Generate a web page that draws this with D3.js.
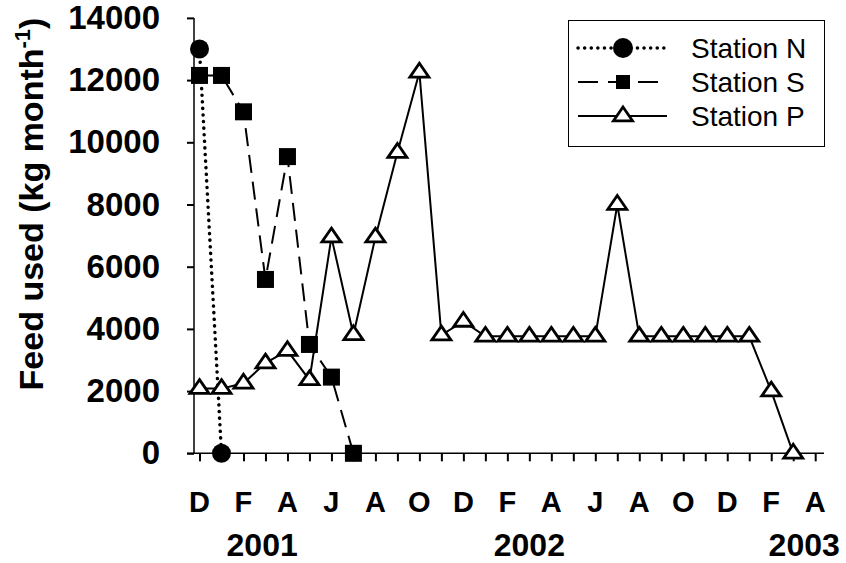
<!DOCTYPE html>
<html>
<head>
<meta charset="utf-8">
<script src="https://cdn.jsdelivr.net/npm/d3@7"></script>
<style>
  body { margin: 0; background: #fff; }
  svg { font-family: "Liberation Sans", Arial, sans-serif; }
</style>
</head>
<body>
<div id="plot"></div>
<script>
// month index 0 = Dec 2000
const monthLabels = ["D", "F", "A", "J", "A", "O", "D", "F", "A", "J", "A", "O", "D", "F", "A"];
const yearLabels = [
  { year: "2001", at: 2.85 },
  { year: "2002", at: 15 },
  { year: "2003", at: 27.5 }
];
const yTicks = [0, 2000, 4000, 6000, 8000, 10000, 12000, 14000];

const stationN = [13000, 0];
const stationS = [12150, 12150, 10980, 5590, 9540, 3500, 2450, 0];
const stationP = [2080, 2080, 2250, 2900, 3300, 2360, 6950, 3810, 6950, 9670, 12250,
  3800, 4240, 3760, 3760, 3760, 3760, 3760, 3760, 8000, 3760, 3760, 3760, 3760, 3760,
  3760, 2000, 0];

const W = 846, H = 563;

const svg = d3.select("#plot")
  .append("svg")
  .attr("width", W)
  .attr("height", H);

// scales
const x = d3.scaleLinear().domain([-0.25, 28.4]).range([194, 824]);
const y = d3.scaleLinear().domain([0, 14000]).range([453.3, 17.9]);

// y axis
const yAxis = svg.append("g")
  .attr("transform", `translate(${x(-0.25)},0)`)
  .call(d3.axisLeft(y).tickValues(yTicks).tickSize(7).tickPadding(27).tickFormat(d3.format("d")));
yAxis.select(".domain").attr("d", `M0,${y(14000)}V${y(0)}`).attr("stroke-width", 1.5);
yAxis.selectAll(".tick line").attr("stroke-width", 2);
yAxis.selectAll(".tick text")
  .attr("font-size", 33)
  .attr("font-weight", "bold")
  .attr("font-family", "Liberation Sans, Arial, sans-serif")
  .attr("fill", "#000");

// x axis with monthly ticks
const xAxis = svg.append("g")
  .attr("transform", `translate(0,${y(0)})`)
  .call(d3.axisBottom(x).tickValues(d3.range(0, 29)).tickSize(8).tickFormat(""));
xAxis.select(".domain").attr("d", `M187,0H${x(28.4)}`).attr("stroke-width", 1.5);
xAxis.selectAll(".tick line").attr("stroke-width", 2);

// month letters every second month
svg.append("g")
  .selectAll("text")
  .data(monthLabels)
  .enter()
  .append("text")
  .attr("x", (d, i) => x(i * 2))
  .attr("y", 512)
  .attr("text-anchor", "middle")
  .attr("font-size", 29)
  .attr("font-weight", "bold")
  .text(d => d);

svg.append("g")
  .selectAll("text")
  .data(yearLabels)
  .enter()
  .append("text")
  .attr("x", d => x(d.at))
  .attr("y", 556)
  .attr("text-anchor", "middle")
  .attr("font-size", 32)
  .attr("font-weight", "bold")
  .text(d => d.year);

// y axis title
const yTitle = svg.append("text")
  .attr("transform", "translate(43,204) rotate(-90)")
  .attr("text-anchor", "middle")
  .attr("font-size", 34)
  .attr("font-weight", "bold");
yTitle.append("tspan").text("Feed used (kg month");
yTitle.append("tspan").attr("font-size", 22).attr("dy", -13).text("-1");
yTitle.append("tspan").attr("dy", 13).text(")");

const line = d3.line().x((d, i) => x(i)).y(d => y(d));

const triPath = "M0,-9L9.5,4.8L-9.5,4.8Z";

// Station S
svg.append("path")
  .datum(stationS)
  .attr("d", line)
  .attr("fill", "none")
  .attr("stroke", "#000")
  .attr("stroke-width", 2)
  .attr("stroke-dasharray", "18,9");
svg.selectAll(".sq")
  .data(stationS)
  .enter()
  .append("rect")
  .attr("class", "sq")
  .attr("x", (d, i) => x(i) - 8.5)
  .attr("y", d => y(d) - 8.5)
  .attr("width", 17)
  .attr("height", 17)
  .attr("fill", "#000");

// Station N
svg.append("path")
  .datum(stationN)
  .attr("d", line)
  .attr("fill", "none")
  .attr("stroke", "#000")
  .attr("stroke-width", 3.5)
  .attr("stroke-linecap", "round")
  .attr("stroke-dasharray", "0.1,6.5");
svg.selectAll(".dot")
  .data(stationN)
  .enter()
  .append("circle")
  .attr("class", "dot")
  .attr("cx", (d, i) => x(i))
  .attr("cy", d => y(d))
  .attr("r", 9.5)
  .attr("fill", "#000");

// Station P
svg.append("path")
  .datum(stationP)
  .attr("d", line)
  .attr("fill", "none")
  .attr("stroke", "#000")
  .attr("stroke-width", 2);
svg.selectAll(".tri")
  .data(stationP)
  .enter()
  .append("path")
  .attr("class", "tri")
  .attr("d", triPath)
  .attr("transform", (d, i) => `translate(${x(i)},${y(d)})`)
  .attr("fill", "#fff")
  .attr("stroke", "#000")
  .attr("stroke-width", 2.8)
  .attr("stroke-linejoin", "miter");

// legend
const legend = svg.append("g");
legend.append("rect")
  .attr("x", 568.5)
  .attr("y", 20.5)
  .attr("width", 256)
  .attr("height", 126)
  .attr("fill", "#fff")
  .attr("stroke", "#000")
  .attr("stroke-width", 1);

const rows = [
  { name: "Station N", cy: 48, dash: "0.1,6.5", width: 3.5, cap: "round" },
  { name: "Station S", cy: 82, dash: "20,10", width: 2, cap: "butt" },
  { name: "Station P", cy: 116, dash: null, width: 2, cap: "butt" }
];

rows.forEach((r, i) => {
  legend.append("line")
    .attr("x1", 578).attr("x2", 667)
    .attr("y1", r.cy).attr("y2", r.cy)
    .attr("stroke", "#000")
    .attr("stroke-width", r.width)
    .attr("stroke-linecap", r.cap)
    .attr("stroke-dasharray", r.dash);
  if (i === 0) {
    legend.append("circle").attr("cx", 623).attr("cy", r.cy).attr("r", 10).attr("fill", "#000");
  } else if (i === 1) {
    legend.append("rect").attr("x", 616).attr("y", r.cy - 7).attr("width", 14).attr("height", 14).attr("fill", "#000");
  } else {
    legend.append("path").attr("d", triPath)
      .attr("transform", `translate(623,${r.cy})`)
      .attr("fill", "#fff").attr("stroke", "#000").attr("stroke-width", 2.8);
  }
  legend.append("text")
    .attr("x", 691)
    .attr("y", r.cy + 10)
    .attr("font-size", 28)
    .text(r.name);
});
</script>
</body>
</html>
